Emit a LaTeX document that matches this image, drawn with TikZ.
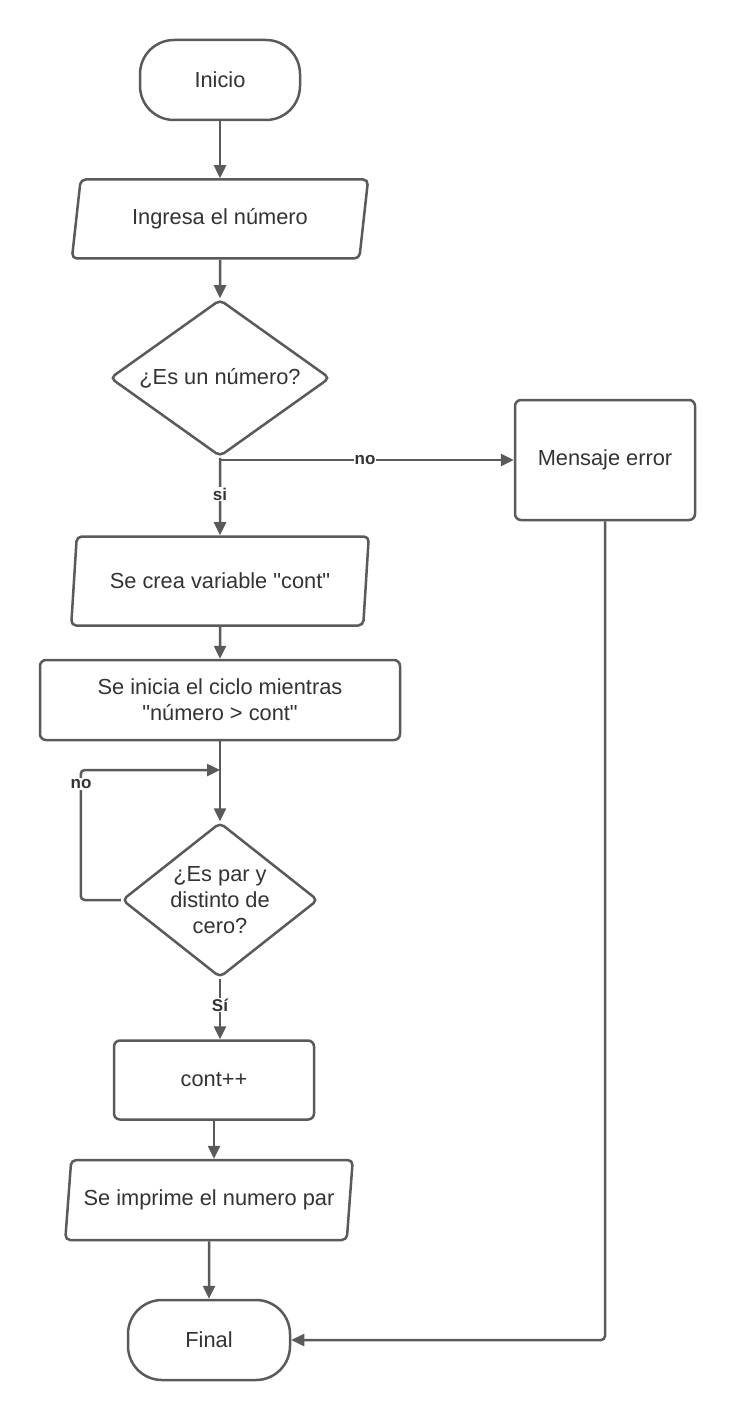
\documentclass[tikz,border=0pt]{standalone}
\usepackage{fontspec}
\setmainfont{Liberation Sans}[Ligatures=TeXOff]
\usetikzlibrary{shapes.geometric,arrows.meta}
\definecolor{ln}{HTML}{5A5A5A}
\definecolor{tx}{HTML}{333333}
\begin{document}
\begin{tikzpicture}[x=1pt,y=-1pt,
 base/.style={draw=ln, line width=2.5pt, text=tx, font=\fontsize{21.8}{26}\selectfont, align=center, inner sep=0pt},
 term/.style={base, rectangle, rounded corners=34pt, minimum width=160pt, minimum height=80pt},
 io/.style={base, trapezium, trapezium left angle=75, trapezium right angle=105, trapezium stretches=true, rounded corners=5pt, minimum height=79pt},
 proc/.style={base, rectangle, rounded corners=6pt},
 dec/.style={base, diamond, rounded corners=5pt},
 arr/.style={draw=ln, line width=2.5pt, -{Triangle[length=13pt,width=12pt]}},
 lbl/.style={fill=white, text=tx, font=\bfseries\fontsize{17}{19}\selectfont, inner sep=1pt}]
\fill[white] (0,0) rectangle (735,1420);
\useasboundingbox (0,0) rectangle (735,1420);

\node[term] (start) at (220,80) {Inicio};
\node[io, minimum width=297pt] (in) at (220,219) {Ingresa el número};
\node[dec, aspect=1.4, minimum width=220pt, minimum height=157pt] (d1) at (220,378) {¿Es un número?};
\node[proc, minimum width=180pt, minimum height=120pt] (err) at (605,460) {Mensaje error};
\node[io, minimum width=298pt, minimum height=89pt] (var) at (220,581) {Se crea variable "cont"};
\node[proc, minimum width=360pt, minimum height=80pt] (loop) at (220,700) {Se inicia el ciclo mientras\\"número > cont"};
\node[dec, aspect=1.26, minimum width=196pt, minimum height=155pt] (d2) at (220,900) {¿Es par y\\distinto de\\cero?};
\node[proc, minimum width=200pt, minimum height=79pt] (inc) at (214,1080) {cont++};
\node[io, minimum width=288pt, minimum height=80pt] (out) at (209,1200) {Se imprime el numero par};
\node[term, minimum width=162pt] (end) at (209,1340) {Final};
\coordinate (mid) at (220,770);

\draw[arr] (start) -- (in);
\draw[arr] (in) -- (d1);
\draw[arr] (d1.south) -- (var);
\draw[arr] (d1.south) |- (err.west);
\draw[arr] (var) -- (loop);
\draw[arr] (loop) -- (d2);
\draw[arr, rounded corners=4pt] (d2.west) -- ++(-40,0) |- (mid);
\draw[arr] (d2.south) -- (d2.south |- inc.north);
\draw[arr] (inc.south) -- (inc.south |- out.north);
\draw[arr] (out.south) -- (end.north);
\draw[arr, rounded corners=4pt] (err.south) |- (end.east);

\node[lbl] (l1) at (365,460) {no};
\node[lbl] (l2) at (220,494) {si};
\node[lbl] (l3) at (81,784) {no};
\node[lbl] (l4) at (220,1005) {Sí};
\end{tikzpicture}
\end{document}
